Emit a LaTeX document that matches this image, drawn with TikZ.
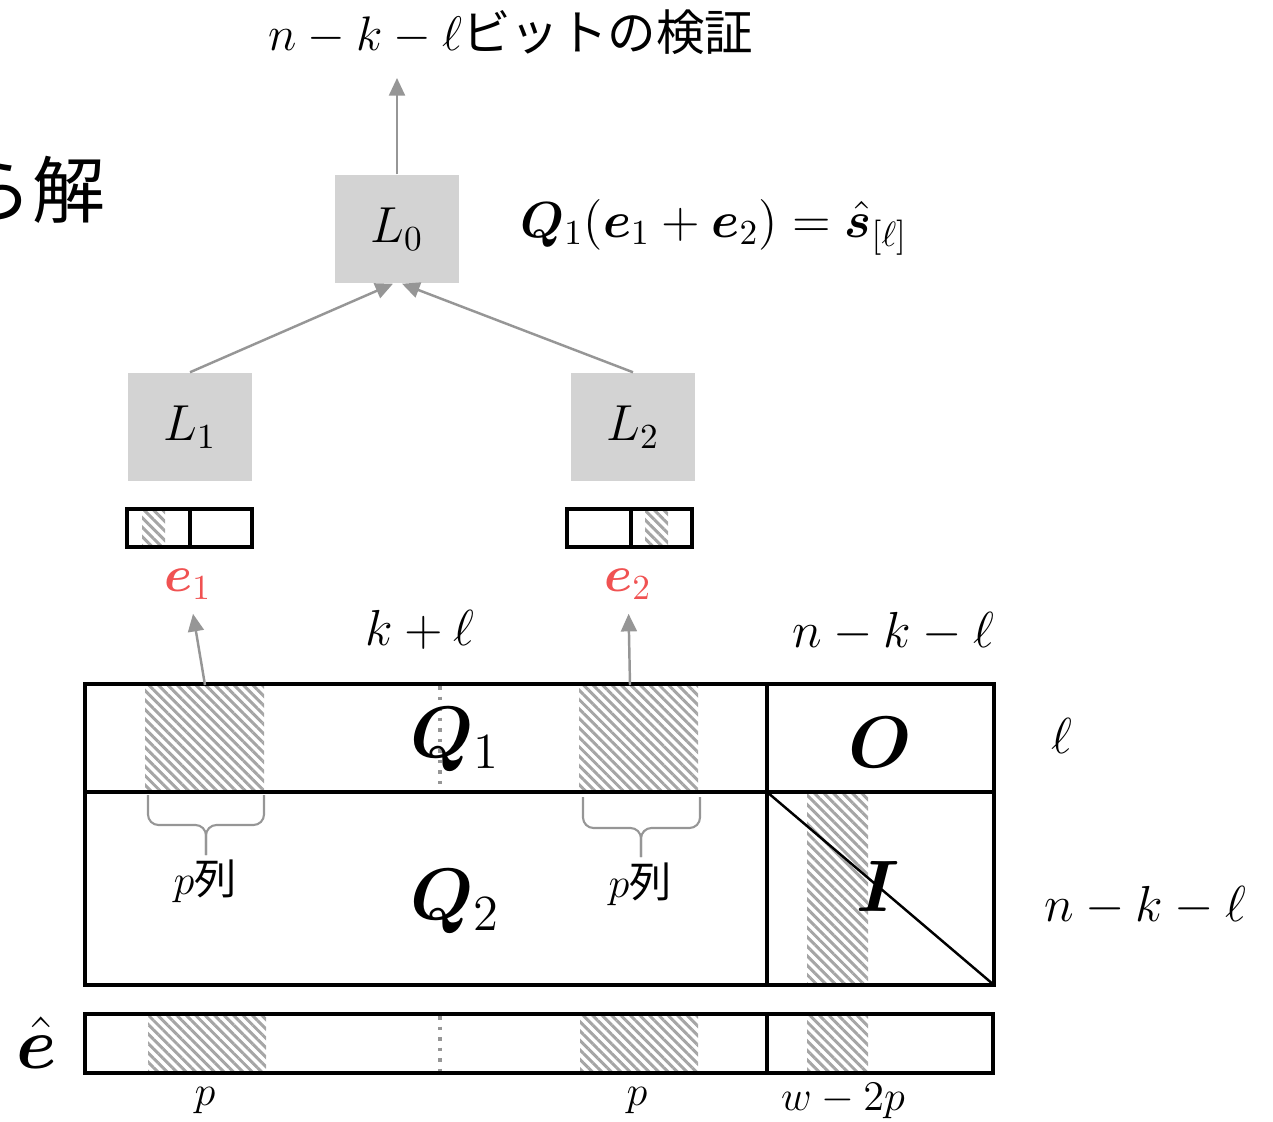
\documentclass[tikz,border=0pt]{standalone}
\usepackage{fix-cm}
\usepackage{amsmath,bm}
\usepackage{fontspec}
\newfontfamily\jpfont{Noto Sans CJK JP}
\usetikzlibrary{arrows.meta,patterns.meta}
\definecolor{boxgray}{RGB}{211,211,211}
\definecolor{arrgray}{RGB}{150,150,150}
\definecolor{hatchgray}{RGB}{165,165,165}
\definecolor{ered}{RGB}{240,82,82}
\tikzset{
  lbox/.style={fill=boxgray, minimum width=1.24cm, minimum height=1.08cm, inner sep=0pt, font=\Large},
  garrow/.style={draw=arrgray, line width=0.7pt, -{Triangle[width=4.5pt,length=5pt]}},
  hatch/.style={pattern={Lines[angle=-45,distance=1.9pt,line width=0.85pt]}, pattern color=hatchgray},
  mline/.style={line width=0.9pt},
  brc/.style={draw=arrgray, line width=0.6pt, rounded corners=3pt},
  dotline/.style={draw=arrgray, dotted, line width=1pt},
  elabel/.style={text=ered, font=\Large, inner sep=4pt},
}
\begin{document}
\begin{tikzpicture}[x=0.01cm, y=-0.01cm]
\useasboundingbox (0,0) rectangle (1273,1122);

\node[font=\fontsize{13.8}{16}\selectfont] (goal) at (511,32) {$n-k-\ell$\jpfont ビットの検証};
\node[font=\huge, anchor=east, inner sep=0pt] (kara) at (106,190) {\jpfont ら解};

\node[lbox] (L0) at (397,229) {$L_0$};
\node[lbox] (L1) at (190,427) {$L_1$};
\node[lbox] (L2) at (633,427) {$L_2$};
\node[font=\Large, anchor=west] (eq) at (508,227) {$\bm{Q}_1(\bm{e}_1+\bm{e}_2)=\hat{\bm{s}}_{[\ell]}$};

\coordinate (top) at (397,78);
\draw[garrow] (L0.north) -- (top);
\draw[garrow] (L1.north) -- ([xshift=-0.04cm]L0.south);
\draw[garrow] (L2.north) -- ([xshift=0.05cm]L0.south);

\path[hatch] (142,509) rectangle (165,547);
\draw[mline] (127,509) rectangle (252,547) (190,509) -- (190,547);
\path[hatch] (645,509) rectangle (668,547);
\draw[mline] (567,509) rectangle (692,547) (631,509) -- (631,547);

\node[elabel] (e1) at (188,584) {$\bm{e}_1$};
\node[elabel] (e2) at (628,584) {$\bm{e}_2$};

\node[font=\Large] (kl) at (420,630) {$k+\ell$};
\node[font=\Large] (nkl) at (893,632) {$n-k-\ell$};

\path[hatch] (145,684) rectangle (264,792);
\path[hatch] (579,684) rectangle (698,792);
\path[hatch] (807,792) rectangle (868,985);
\draw[dotline] (440,686) -- (440,792);
\draw[mline] (85,684) rectangle (994,985);
\draw[mline] (85,792) -- (994,792) (767,684) -- (767,985);
\draw[line width=0.7pt] (767,792) -- (994,985);

\coordinate (h1) at (205,685);
\coordinate (h2) at (630,685);
\draw[garrow] (h1) -- (e1);
\draw[garrow] (h2) -- (e2);

\node[font=\huge] (Q1) at (455,740) {$\bm{Q}_1$};
\node[font=\huge] (Q2) at (455,902) {$\bm{Q}_2$};
\node[font=\huge] (O) at (880,742) {$\bm{O}$};
\node[font=\huge] (I) at (878,886) {$\bm{I}$};

\draw[brc] (148,795) -- (148,825) -- (206,825) -- (206,855);
\draw[brc] (264,795) -- (264,825) -- (206,825) -- (206,855);
\draw[brc] (583,797) -- (583,828) -- (641,828) -- (641,857);
\draw[brc] (700,797) -- (700,828) -- (641,828) -- (641,857);
\node[font=\large] (pc1) at (205,881) {$p$\jpfont 列};
\node[font=\large] (pc2) at (640,884) {$p$\jpfont 列};

\node[font=\Large] (ell) at (1062,736) {$\ell$};
\node[font=\Large] (nkl2) at (1145,906) {$n-k-\ell$};

\path[hatch] (148,1014) rectangle (266,1073);
\path[hatch] (580,1014) rectangle (698,1073);
\path[hatch] (807,1014) rectangle (868,1073);
\draw[dotline] (440,1016) -- (440,1073);
\draw[mline] (85,1014) rectangle (993,1073) (767,1014) -- (767,1073);

\node[font=\huge] (ehat) at (37,1043) {$\hat{\bm{e}}$};
\node[font=\large] (p1) at (205,1101) {$p$};
\node[font=\large] (p2) at (637,1101) {$p$};
\node[font=\large] (w2p) at (843,1101) {$w-2p$};
\end{tikzpicture}
\end{document}
